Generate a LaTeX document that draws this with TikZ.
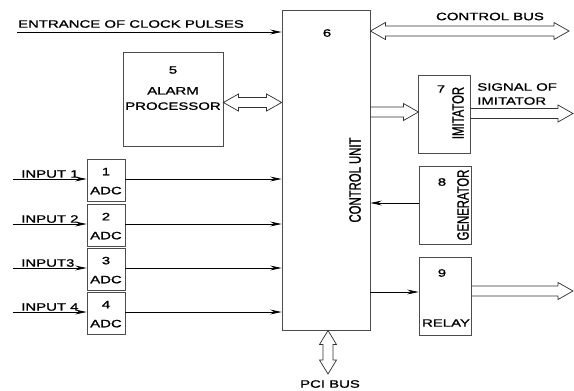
\documentclass[tikz,border=0pt]{standalone}
\usepackage{fontspec}
\usepackage{graphicx}
\usetikzlibrary{arrows.meta,calc}
\newfontfamily\diagfont{Liberation Sans}[FakeStretch=1.40,FakeBold=1.2]
\newfontfamily\diagfontv{Liberation Sans}[FakeBold=1.2]
\newcommand{\vlabel}[1]{\scalebox{1}[1.45]{\diagfontv\fontsize{8.5}{10}\selectfont #1}}

% hollow bus arrow, tail #1 -> tip #2, pointing right
\newcommand{\busone}[2]{%
  \draw[bus] ($(#1)+(0,-5)$) -- ($(#2)+(-15,-5)$) -- ($(#2)+(-15,-8.5)$) -- (#2)
    -- ($(#2)+(-15,8.5)$) -- ($(#2)+(-15,5)$) -- ($(#1)+(0,5)$);}
% hollow bus arrow with two heads, left #1, right #2
\newcommand{\bustwo}[2]{%
  \draw[bus] (#1) -- ++(15,-8.5) -- ++(0,3.5) -- ($(#2)+(-15,-5)$) -- ($(#2)+(-15,-8.5)$)
    -- (#2) -- ($(#2)+(-15,8.5)$) -- ($(#2)+(-15,5)$) -- ($(#1)+(15,5)$)
    -- ($(#1)+(15,8.5)$) -- cycle;}
% same, vertical, top #1, bottom #2
\newcommand{\busvert}[2]{%
  \draw[bus] (#1) -- ++(-8.5,14) -- ++(3.5,0) -- ($(#2)+(-5,-14)$) -- ($(#2)+(-8.5,-14)$)
    -- (#2) -- ($(#2)+(8.5,-14)$) -- ($(#2)+(5,-14)$) -- ($(#1)+(5,14)$)
    -- ($(#1)+(8.5,14)$) -- cycle;}

\begin{document}
\begin{tikzpicture}[x=0.75pt, y=-0.75pt,
    blk/.style={draw=black!70, line width=0.6pt, inner sep=0pt},
    lbl/.style={font=\diagfont\fontsize{8}{9.5}\selectfont, inner sep=0pt, text=black},
    sig/.style={-{Stealth[length=8.5pt,width=3.6pt]}, line width=0.55pt},
    bus/.style={line width=0.55pt, draw=black!80}]

    \useasboundingbox (0,0) rectangle (574,390);

    % ── Control unit ─────────────────────────────────────────────────────────
    \node[blk, minimum width=66pt, minimum height=240pt] (cu) at (326,170) {};
    \node[lbl] (n6) at (327,33) {6};
    \node[rotate=90, inner sep=0pt] (tcu) at (355,180) {\vlabel{CONTROL UNIT}};

    % ── Clock pulses ─────────────────────────────────────────────────────────
    \coordinate (clk) at (17,32);
    \draw[sig] (clk) -- (clk -| cu.west);
    \node[lbl] (tclk) at (131,24) {ENTRANCE OF CLOCK PULSES};

    % ── Alarm processor (5) ──────────────────────────────────────────────────
    \node[blk, minimum width=75pt, minimum height=71pt] (alarm) at (173,99.5) {};
    \node[lbl] (n5) at (173,70) {5};
    \node[lbl, align=center] (talarm) at (173,98.5) {ALARM\\[2pt]PROCESSOR};
    \coordinate (alA) at (alarm.east |- 0,102.5);
    \coordinate (alB) at (cu.west |- 0,102.5);
    \bustwo{alA}{alB}

    % ── Control bus ──────────────────────────────────────────────────────────
    \coordinate (cbA) at (cu.east |- 0,31);
    \coordinate (cbB) at (569,31);
    \bustwo{cbA}{cbB}
    \node[lbl] (tcb) at (490,16.5) {CONTROL BUS};

    % ── ADC 1..4 with inputs ─────────────────────────────────────────────────
    \foreach \i/\yy/\txt in {1/179/INPUT 1, 2/224/INPUT 2, 3/268/INPUT3, 4/312/INPUT 4}{
        \node[blk, minimum width=28.5pt, minimum height=31.5pt] (adc\i) at (106,\yy+1) {};
        \node[lbl] (n\i) at ($(adc\i.north)+(0,13)$) {\i};
        \node[lbl] (tadc\i) at ($(adc\i.north)+(0,32)$) {ADC};
        \coordinate (in\i) at (13,\yy);
        \draw[sig] (in\i) -- (in\i -| adc\i.west);
        \draw[sig] (adc\i.east |- in\i) -- (in\i -| cu.west);
        \node[lbl, anchor=west] (tin\i) at (21,\yy-5) {\txt};
    }

    % ── Imitator (7) ─────────────────────────────────────────────────────────
    \node[blk, minimum width=38.5pt, minimum height=58.5pt] (imit) at (444.5,114) {};
    \node[lbl] (n7) at (441,89) {7};
    \node[rotate=90, inner sep=0pt] (timit) at (458,113) {\vlabel{IMITATOR}};
    \coordinate (imA) at (cu.east |- 0,112);
    \coordinate (imB) at (imit.west |- 0,112);
    \busone{imA}{imB}
    \coordinate (soA) at (imit.east |- 0,113.5);
    \coordinate (soB) at (573,113.5);
    \busone{soA}{soB}
    \node[lbl, anchor=west, align=left] (tsig) at (477,94) {SIGNAL OF\\[1pt]IMITATOR};

    % ── Generator (8) ────────────────────────────────────────────────────────
    \node[blk, minimum width=39pt, minimum height=58pt] (gen) at (445,205.5) {};
    \node[lbl] (n8) at (442,182) {8};
    \node[rotate=90, inner sep=0pt] (tgen) at (463,205) {\vlabel{GENERATOR}};
    \draw[sig] (gen.west |- 0,203) -- (cu.east |- 0,203);

    % ── Relay (9) ────────────────────────────────────────────────────────────
    \node[blk, minimum width=39pt, minimum height=58pt] (relay) at (445,296.5) {};
    \node[lbl] (n9) at (442,273) {9};
    \node[lbl] (trelay) at (446,323) {RELAY};
    \draw[sig] (cu.east |- 0,292) -- (relay.west |- 0,292);
    \coordinate (rlA) at (relay.east |- 0,291);
    \coordinate (rlB) at (573,291);
    \busone{rlA}{rlB}

    % ── PCI bus ──────────────────────────────────────────────────────────────
    \coordinate (pciA) at (328,330.5);
    \coordinate (pciB) at (328,374);
    \busvert{pciA}{pciB}
    \node[lbl] (tpci) at (330,384) {PCI BUS};

\end{tikzpicture}
\end{document}
